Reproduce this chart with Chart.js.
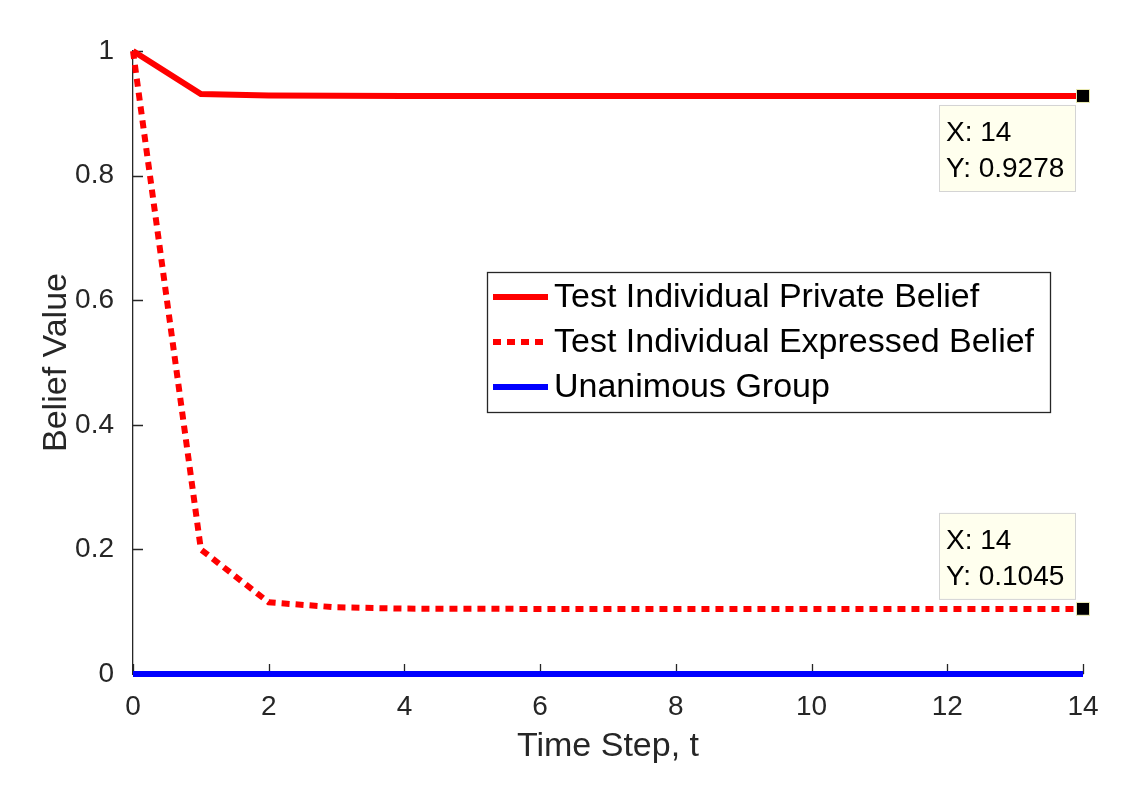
<!DOCTYPE html>
<html>
<head>
<meta charset="utf-8">
<script src="https://cdn.jsdelivr.net/npm/chart.js@4.4.1/dist/chart.umd.min.js"></script>
<style>
  html, body { margin: 0; padding: 0; background: #fff; }
  #wrap { width: 1134px; height: 799px; }
</style>
</head>
<body>
<div id="wrap"><canvas id="beliefChart" width="1134" height="799"></canvas></div>
<script>
// time steps and series
const timeSteps = [0, 1, 2, 3, 4, 5, 6, 7, 8, 9, 10, 11, 12, 13, 14];
const privateBelief = [1, 0.931, 0.9285, 0.928, 0.9278, 0.9278, 0.9278, 0.9278, 0.9278, 0.9278, 0.9278, 0.9278, 0.9278, 0.9278, 0.9278];
const expressedBelief = [1, 0.2, 0.115, 0.107, 0.105, 0.1046, 0.1045, 0.1045, 0.1045, 0.1045, 0.1045, 0.1045, 0.1045, 0.1045, 0.1045];
const unanimousGroup = [0, 0, 0, 0, 0, 0, 0, 0, 0, 0, 0, 0, 0, 0, 0];
const seriesLabels = ["Test Individual Private Belief", "Test Individual Expressed Belief", "Unanimous Group"];
const yTickLabels = ["0", "0.2", "0.4", "0.6", "0.8", "1"];
const xTickLabels = ["0", "2", "4", "6", "8", "10", "12", "14"];

const FONT = "Liberation Sans, Arial, Helvetica, sans-serif";
const AXIS_COLOR = "#262626";

const toPoints = vals => vals.map((v, i) => ({ x: timeSteps[i], y: v }));

// inward tick marks like matlab
const innerTicks = {
  id: "innerTicks",
  beforeDatasetsDraw(chart) {
    const { ctx, scales: { x, y } } = chart;
    ctx.save();
    ctx.strokeStyle = AXIS_COLOR;
    ctx.lineWidth = 1.3;
    ctx.beginPath();
    x.ticks.forEach(t => {
      const px = Math.round(x.getPixelForValue(t.value)) + 0.5;
      ctx.moveTo(px, y.bottom);
      ctx.lineTo(px, y.bottom - 10);
    });
    y.ticks.forEach(t => {
      const py = Math.round(y.getPixelForValue(t.value)) + 0.5;
      ctx.moveTo(x.left, py);
      ctx.lineTo(x.left + 10, py);
    });
    ctx.stroke();
    ctx.restore();
  }
};

// data tips at the last point of the two red series
const dataTips = {
  id: "dataTips",
  afterDraw(chart) {
    const { ctx, scales: { x, y } } = chart;
    const last = timeSteps.length - 1;
    const tips = [
      { val: privateBelief[last], below: true },
      { val: expressedBelief[last], below: false }
    ];
    ctx.save();
    tips.forEach(tp => {
      const px = x.getPixelForValue(timeSteps[last]);
      const py = y.getPixelForValue(tp.val);
      const bw = 136, bh = 86;
      const bx = px - 144;
      const by = tp.below ? py + 9 : py - 96;
      ctx.fillStyle = "#ffffee";
      ctx.fillRect(bx, by, bw, bh);
      ctx.strokeStyle = "#d4d4d4";
      ctx.lineWidth = 1;
      ctx.strokeRect(bx + 0.5, by + 0.5, bw, bh);
      ctx.fillStyle = "#000";
      ctx.font = "28px " + FONT;
      ctx.textBaseline = "middle";
      ctx.textAlign = "left";
      ctx.fillText("X: " + timeSteps[last], bx + 7, by + 28);
      ctx.fillText("Y: " + tp.val.toFixed(4), bx + 7, by + 64);
      // marker
      ctx.fillStyle = "#000";
      ctx.fillRect(px - 6, py - 6, 12, 12);
      ctx.strokeStyle = "#e8e8b0";
      ctx.strokeRect(px - 6.5, py - 6.5, 13, 13);
    });
    ctx.restore();
  }
};

// boxed legend inside the axes
const boxLegend = {
  id: "boxLegend",
  afterDraw(chart) {
    const { ctx } = chart;
    const left = 487, top = 272, w = 563, h = 140;
    ctx.save();
    ctx.fillStyle = "#fff";
    ctx.fillRect(left, top, w, h);
    ctx.strokeStyle = AXIS_COLOR;
    ctx.lineWidth = 1.3;
    ctx.strokeRect(left + 0.5, top + 0.5, w, h);
    const rows = [297, 342, 387];
    chart.data.datasets.forEach((ds, i) => {
      ctx.strokeStyle = ds.borderColor;
      ctx.lineWidth = ds.borderWidth;
      ctx.setLineDash(ds.borderDash || []);
      ctx.beginPath();
      ctx.moveTo(493, rows[i]);
      ctx.lineTo(548, rows[i]);
      ctx.stroke();
      ctx.setLineDash([]);
      ctx.fillStyle = "#000";
      ctx.font = "34px " + FONT;
      ctx.textBaseline = "middle";
      ctx.textAlign = "left";
      ctx.fillText(ds.label, 554, rows[i] + 1);
    });
    ctx.restore();
  }
};

const ctx = document.getElementById("beliefChart").getContext("2d");
new Chart(ctx, {
  type: "line",
  data: {
    datasets: [
      {
        label: seriesLabels[0],
        data: toPoints(privateBelief),
        borderColor: "#ff0000",
        borderWidth: 6,
        pointRadius: 0,
        fill: false,
        clip: false,
        tension: 0
      },
      {
        label: seriesLabels[1],
        data: toPoints(expressedBelief),
        borderColor: "#ff0000",
        borderWidth: 6,
        borderDash: [8, 6],
        pointRadius: 0,
        fill: false,
        clip: false,
        tension: 0
      },
      {
        label: seriesLabels[2],
        data: toPoints(unanimousGroup),
        borderColor: "#0000ff",
        borderWidth: 6,
        pointRadius: 0,
        fill: false,
        clip: false,
        tension: 0
      }
    ]
  },
  options: {
    responsive: false,
    animation: false,
    layout: { padding: { top: 51, right: 51, left: 0, bottom: 0 } },
    plugins: {
      legend: { display: false },
      tooltip: { enabled: false }
    },
    scales: {
      x: {
        type: "linear",
        min: 0,
        max: 14,
        afterBuildTicks: s => { s.ticks = xTickLabels.map(v => ({ value: Number(v) })); },
        ticks: {
          color: AXIS_COLOR,
          font: { family: FONT, size: 28 },
          padding: 8,
          maxRotation: 0,
          callback: (v, i) => xTickLabels[i]
        },
        grid: { display: false },
        border: { display: true, color: AXIS_COLOR, width: 1.3 },
        title: {
          display: true,
          text: "Time Step, t",
          color: AXIS_COLOR,
          font: { family: FONT, size: 34 },
          padding: { top: 0, bottom: 32 }
        },
        afterFit: s => { s.height = 125; }
      },
      y: {
        type: "linear",
        min: 0,
        max: 1,
        afterBuildTicks: s => { s.ticks = yTickLabels.map(v => ({ value: Number(v) })); },
        ticks: {
          color: AXIS_COLOR,
          font: { family: FONT, size: 28 },
          padding: 11,
          callback: (v, i) => yTickLabels[i]
        },
        grid: { display: false },
        border: { display: true, color: AXIS_COLOR, width: 1.3 },
        title: {
          display: true,
          text: "Belief Value",
          color: AXIS_COLOR,
          font: { family: FONT, size: 34 },
          padding: { top: 36, bottom: 0 }
        },
        afterFit: s => { s.width = 133; }
      }
    }
  },
  plugins: [innerTicks, dataTips, boxLegend]
});
</script>
</body>
</html>
